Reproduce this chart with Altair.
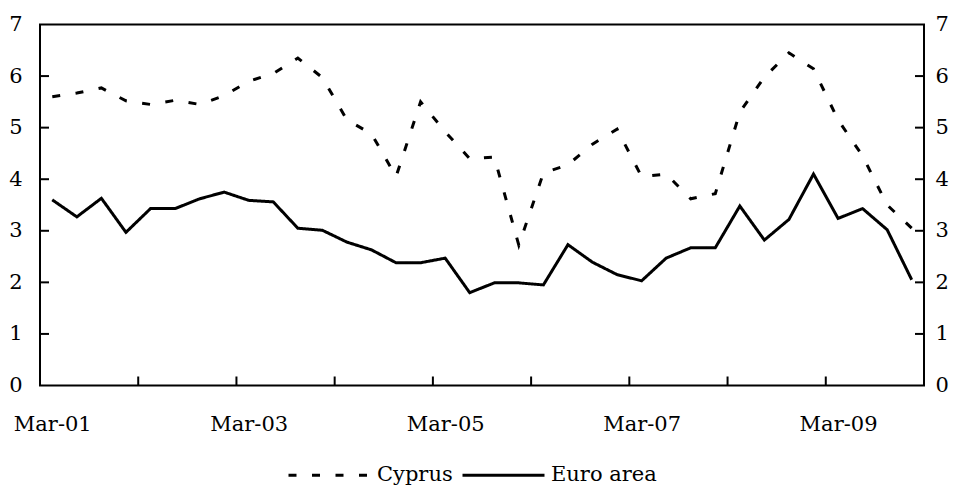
import altair as alt
import pandas as pd

quarters = [
    "Mar-01", "Jun-01", "Sep-01", "Dec-01", "Mar-02", "Jun-02", "Sep-02", "Dec-02",
    "Mar-03", "Jun-03", "Sep-03", "Dec-03", "Mar-04", "Jun-04", "Sep-04", "Dec-04",
    "Mar-05", "Jun-05", "Sep-05", "Dec-05", "Mar-06", "Jun-06", "Sep-06", "Dec-06",
    "Mar-07", "Jun-07", "Sep-07", "Dec-07", "Mar-08", "Jun-08", "Sep-08", "Dec-08",
    "Mar-09", "Jun-09", "Sep-09", "Dec-09",
]
cyprus = [5.60, 5.67, 5.77, 5.52, 5.45, 5.53, 5.45, 5.62, 5.90, 6.05, 6.35, 5.97,
          5.15, 4.88, 4.05, 5.50, 4.92, 4.40, 4.43, 2.72, 4.12, 4.28, 4.68, 4.97,
          4.05, 4.10, 3.62, 3.72, 5.30, 5.98, 6.45, 6.14, 5.15, 4.45, 3.50, 3.05]
euro = [3.60, 3.27, 3.63, 2.97, 3.43, 3.43, 3.62, 3.75, 3.59, 3.56, 3.05, 3.01,
        2.78, 2.63, 2.38, 2.38, 2.47, 1.80, 1.99, 1.99, 1.95, 2.73, 2.39, 2.15,
        2.03, 2.47, 2.67, 2.67, 3.48, 2.82, 3.22, 4.10, 3.24, 3.43, 3.02, 2.05]
series_names = ["Cyprus", "Euro area"]
x_label_index = [0, 8, 16, 24, 32]
x_tick_bounds = [3.5, 7.5, 11.5, 15.5, 19.5, 23.5, 27.5, 31.5]
y_values = [0, 1, 2, 3, 4, 5, 6, 7]
y_inner_ticks = [1, 2, 3, 4, 5, 6]

W, H = 884, 361
FONT = "DejaVu Serif"
FS = 21

rows = []
for i, q in enumerate(quarters):
    rows.append({"i": i, "q": q, "series": "Cyprus", "v": cyprus[i]})
    rows.append({"i": i, "q": q, "series": "Euro area", "v": euro[i]})
df = pd.DataFrame(rows)
ytick_df = pd.DataFrame({"t": y_inner_ticks})
xtick_df = pd.DataFrame({"b": x_tick_bounds})

xscale = alt.Scale(domain=[-0.5, 35.5], nice=False, zero=False)
yscale = alt.Scale(domain=[0, 7], nice=False, zero=False)
label_js = "[" + ",".join("'%s'" % q for q in quarters) + "]"

x_axis = alt.Axis(
    values=x_label_index, labelExpr=label_js + "[datum.value]", ticks=False, tickSize=0,
    domain=False, grid=False, labelPadding=28, title=None, labelFlush=False,
    labelOverlap=False, labelFont=FONT, labelFontSize=FS, labelColor="black")

lines = alt.Chart(df).mark_line(color="black", strokeWidth=3).encode(
    x=alt.X("i:Q", scale=xscale, axis=x_axis),
    y=alt.Y("v:Q", scale=yscale, axis=alt.Axis(
        values=y_values, ticks=False, tickSize=0, domain=False, grid=False,
        labelPadding=18, title=None, labelFont=FONT, labelFontSize=FS,
        labelColor="black", labelOverlap=False)),
    strokeDash=alt.StrokeDash("series:N", scale=alt.Scale(
        domain=series_names, range=[[8, 15.5], [1, 0]]),
        legend=alt.Legend(title=None, orient="none", direction="horizontal",
                          legendX=247, legendY=408, symbolType="stroke",
                          symbolSize=6724, symbolStrokeWidth=3,
                          symbolStrokeColor="black", labelFont=FONT,
                          labelFontSize=FS, labelColor="black", labelOffset=5,
                          columnPadding=3, padding=0)),
    order="i:Q",
)

left_ticks = alt.Chart(ytick_df).mark_rule(color="black", strokeWidth=2).encode(
    y=alt.Y("t:Q", scale=yscale, axis=None),
    x=alt.value(0), x2=alt.value(9),
)

right_ticks = alt.Chart(ytick_df).mark_rule(color="black", strokeWidth=2).encode(
    y=alt.Y("t:Q", scale=yscale, axis=alt.Axis(
        orient="right", values=y_values, ticks=False, tickSize=0, domain=False,
        grid=False, labelPadding=11, title=None, labelFont=FONT, labelFontSize=FS,
        labelColor="black", labelOverlap=False)),
    x=alt.value(W - 9), x2=alt.value(W),
)

bottom_ticks = alt.Chart(xtick_df).mark_rule(color="black", strokeWidth=2).encode(
    x=alt.X("b:Q", scale=xscale, axis=x_axis),
    y=alt.value(H - 9), y2=alt.value(H),
)

chart = alt.layer(lines, left_ticks, bottom_ticks, right_ticks).resolve_scale(
    y="independent"
).properties(
    width=W, height=H, autosize="none",
    padding={"left": 32, "top": 16.5, "right": 27, "bottom": 102.5},
    background="white",
).configure_view(stroke="black", strokeWidth=2)

chart.save("out.html", embed_options={"renderer": "svg", "actions": False})
